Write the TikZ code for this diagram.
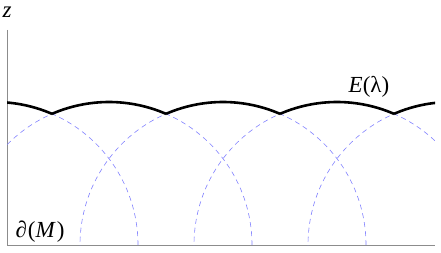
\documentclass[tikz,border=0pt]{standalone}
\usepackage{fontspec}
\setmainfont{Liberation Serif}
\usepackage{tikz}
\definecolor{lavblue}{rgb}{0.5,0.5,1}
\tikzset{
  axis/.style={draw=black!45, line width=0.8pt},
  trace/.style={draw=lavblue, line width=0.6pt, dash pattern=on 5pt off 4pt},
  envelope/.style={draw=black, line width=2.6pt},
  lbl/.style={font=\fontsize{23}{26}\selectfont, inner sep=0pt}}

\begin{document}
\begin{tikzpicture}[x=1pt, y=1pt]
  \useasboundingbox (0,0) rectangle (441,252);
  \draw[axis] (7,222) -- (7,7) -- (435,7);
  \begin{scope}
    \clip (7,7) rectangle (435,252);
    % circles of the family, centres on the boundary
    \foreach \c in {-5,109,223,337,451} \draw[trace] (\c,7) circle[radius=143];
    % upper envelope
    \foreach \c in {-5,109,223,337,451}
      \draw[envelope] ([shift={(\c,7)}]113.5:143) arc[start angle=113.5, end angle=66.5, radius=143];
  \end{scope}
  \node[lbl] (zlab) at (7,240) {\textit{z}};
  \node[lbl] (bdry) at (40,20) {∂\kern1pt(\textit{M}\kern1pt)};
  \node[lbl] (envlab) at (369,165) {\textit{E}(λ)};
\end{tikzpicture}
\end{document}
